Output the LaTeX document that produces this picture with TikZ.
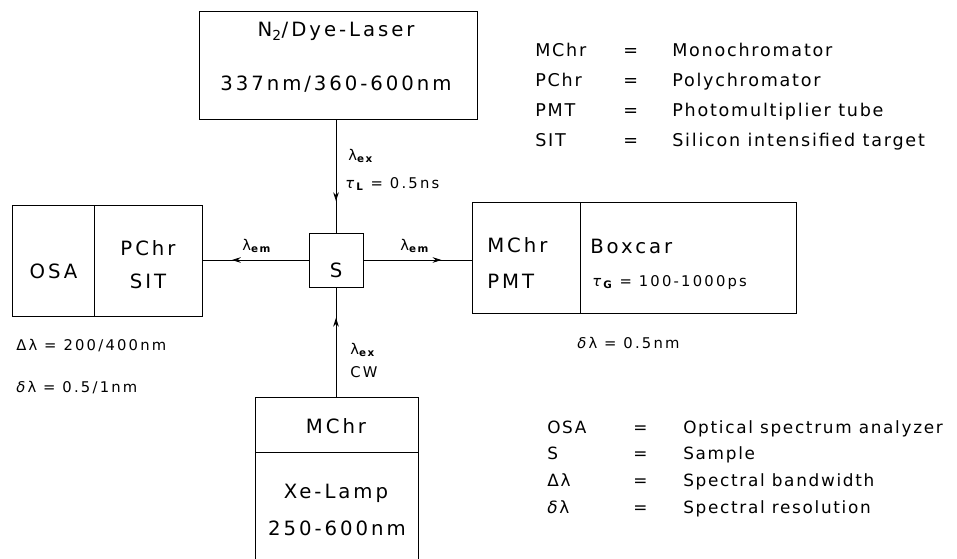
\documentclass[tikz,border=0pt]{standalone}
\usepackage{fontspec}
\setmainfont[LetterSpace=15]{DejaVu Sans}
\newfontfamily\lblfont[LetterSpace=15]{DejaVu Sans}
\newfontfamily\legfont[LetterSpace=10]{DejaVu Sans}
\usetikzlibrary{arrows.meta,positioning,decorations.markings}
\tikzset{
  box/.style={draw=black,line width=0.7pt,inner sep=0pt,outer sep=0pt},
  txt/.style={anchor=base,inner sep=0pt,font=\fontsize{14}{16}\selectfont},
  txtl/.style={txt,anchor=base west},
  leg/.style={anchor=base west,inner sep=0pt,font=\legfont\fontsize{12.5}{15}\selectfont},
  legsm/.style={leg,font=\legfont\fontsize{12}{15}\selectfont},
  lbl/.style={anchor=base west,inner sep=0pt,font=\lblfont\fontsize{10.5}{12}\selectfont},
  flow/.style={line width=0.6pt,postaction={decorate},
    decoration={markings,mark=at position 0.72 with
      {\arrow{Stealth[length=2.2mm,width=1.4mm]}}}}
}
\newcommand\sub[1]{\textsubscript{\bfseries #1}}
\begin{document}
\begin{tikzpicture}[x=0.025cm,y=-0.025cm]
  \useasboundingbox (0,0) rectangle (957,558);
  \clip (0,0) rectangle (957,558);
  % boxes
  \node[box,minimum width=6.925cm,minimum height=2.675cm] (laser) at (338.5,65.5) {};
  \node[box,minimum width=2.025cm,minimum height=2.75cm] (osa) at (53.5,261) {};
  \node[box,minimum width=2.7cm,minimum height=2.75cm,right=0pt of osa] (pchr) {};
  \node[box,minimum size=1.35cm] (s) at (336,260) {};
  \node[box,minimum width=2.7cm,minimum height=2.75cm] (mchr) at (526,258) {};
  \node[box,minimum width=5.4cm,minimum height=2.75cm,right=0pt of mchr] (boxcar) {};
  \node[box,minimum width=4.05cm,minimum height=1.375cm] (xetop) at (337,424.5) {};
  \node[box,minimum width=4.05cm,minimum height=2.85cm,below=0pt of xetop] (xelamp) {};
  % box texts
  \node[txt] (laserA) at (336,37) {N\textsubscript{2}/Dye-Laser};
  \node[txt] (laserB) at (336,90) {337nm/360-600nm};
  \node[txt] (osaA) at (53.5,278) {OSA};
  \node[txt] (pchrA) at (148,255) {PChr};
  \node[txt] (pchrB) at (148,288) {SIT};
  \node[txt] (sA) at (336,277) {S};
  \node[txtl] (mchrA) at (487,252) {MChr};
  \node[txtl] (mchrB) at (487,288) {PMT};
  \node[txtl] (boxcarA) at (590,253) {Boxcar};
  \node[lbl] (boxcarB) at (592,286) {\textit{τ}\sub{G} = 100-1000ps};
  \node[txt] (xetopA) at (336,433) {MChr};
  \node[txt] (xelampA) at (336,498) {Xe-Lamp};
  \node[txt] (xelampB) at (337,535) {250-600nm};
  % beams
  \draw[flow] (s.north |- laser.south) -- (s.north);
  \draw[flow] (s.west) -- (s.west -| pchr.east);
  \draw[flow] (s.east) -- (s.east -| mchr.west);
  \draw[flow] (s.south |- xetop.north) -- (s.south);
  % beam labels
  \node[lbl] (exA) at (348,160) {λ\sub{ex}};
  \node[lbl] (exB) at (345,188) {\textit{τ}\sub{L} = 0.5ns};
  \node[lbl] (emL) at (242,250) {λ\sub{em}};
  \node[lbl] (emR) at (400,250) {λ\sub{em}};
  \node[lbl] (cwA) at (350,354) {λ\sub{ex}};
  \node[lbl] (cwB) at (350,377) {CW};
  \node[lbl] (bwA) at (16,350) {Δλ = 200/400nm};
  \node[lbl] (resA) at (16,392) {\textit{δ}λ = 0.5/1nm};
  \node[lbl] (resB) at (577,348) {\textit{δ}λ = 0.5nm};
  % legends
  \foreach \abbr/\full [count=\i] in {MChr/Monochromator,PChr/Polychromator,
      PMT/Photomultiplier tube,SIT/Silicon intensified target}{
    \node[leg] (topA\i) at (535,27.3+29.7*\i) {\abbr};
    \node[leg] (topB\i) at (623,27.3+29.7*\i) {=};
    \node[leg] (topC\i) at (672,27.3+29.7*\i) {\full};
  }
  \foreach \abbr/\full [count=\i] in {OSA/Optical spectrum analyzer,S/Sample,
      Δλ/Spectral bandwidth,\textit{δ}λ/Spectral resolution}{
    \node[legsm] (botA\i) at (547,406.3+26.7*\i) {\abbr};
    \node[legsm] (botB\i) at (633,406.3+26.7*\i) {=};
    \node[legsm] (botC\i) at (683,406.3+26.7*\i) {\full};
  }
\end{tikzpicture}
\end{document}
